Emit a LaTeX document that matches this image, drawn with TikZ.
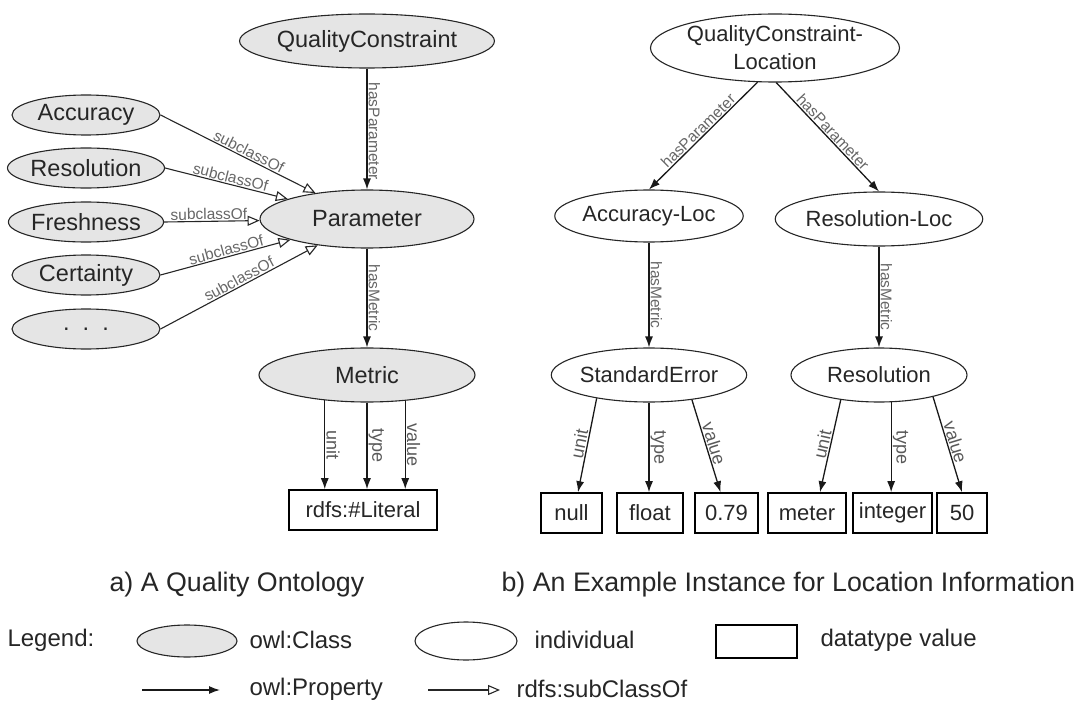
\documentclass[tikz,border=0pt]{standalone}
\usepackage{fontspec}
\setmainfont{Liberation Sans}
\usetikzlibrary{shapes.geometric,arrows.meta}
\begin{document}
\begin{tikzpicture}[x=1pt,y=-1pt,
  cls/.style={ellipse, draw=black!85, line width=1.1pt, fill=black!10, inner sep=0pt, text=black!85, font=\fontsize{23.5}{26}\selectfont},
  ind/.style={ellipse, draw=black!85, line width=1.1pt, fill=white, inner sep=0pt, text=black!85, font=\fontsize{22}{28}\selectfont},
  val/.style={rectangle, draw=black, line width=1.6pt, inner sep=0pt, text=black!85, font=\fontsize{22}{26}\selectfont},
  prop/.style={-{Latex[length=11pt,width=8pt]}, line width=1.3pt, draw=black!90},
  sub/.style={-{Triangle[open,length=12pt,width=10pt]}, line width=1.1pt, draw=black!85},
  lbl/.style={font=\fontsize{15.5}{17}\selectfont, text=black!60, sloped, above, inner sep=1pt},
  blbl/.style={font=\fontsize{18}{20}\selectfont, text=black!65, sloped, above, inner sep=1pt},
  legtxt/.style={anchor=west, text=black!85, font=\fontsize{24}{28}\selectfont},
  captxt/.style={anchor=west, text=black!85, font=\fontsize{26.8}{30}\selectfont}
]
\useasboundingbox (0,0) rectangle (1077,706);

% ---------- a) ontology ----------
\node[cls, minimum width=216pt, minimum height=54pt] (qc) at (367,41) {QualityConstraint};
\node[cls, minimum width=148pt, minimum height=40pt] (acc) at (86,115) {Accuracy};
\node[cls, minimum width=148pt, minimum height=40pt] (res) at (86,168) {Resolution};
\node[cls, minimum width=148pt, minimum height=40pt] (fre) at (86,222) {Freshness};
\node[cls, minimum width=148pt, minimum height=40pt] (cer) at (86,275) {Certainty};
\node[cls, minimum width=148pt, minimum height=40pt] (dots) at (86,329) {.\ \ .\ \ .};
\node[cls, minimum width=214pt, minimum height=58pt] (param) at (367,219) {Parameter};
\node[cls, minimum width=216pt, minimum height=54pt] (metric) at (367,375) {Metric};
\node[val, minimum width=148pt, minimum height=40pt] (lit) at (363,510) {rdfs:\#Literal};

\draw[prop] (qc) -- node[lbl, pos=0.52] {hasParameter} (param);
\draw[prop] (param) -- node[lbl, pos=0.5] {hasMetric} (metric);

\draw[sub] (acc.east) -- node[lbl, pos=0.55] {subclassOf} (param);
\draw[sub] (res.east) -- node[lbl, pos=0.52] {subclassOf} (param);
\draw[sub] (fre.east) -- node[lbl, pos=0.47] {subclassOf} (param);
\draw[sub] (cer.east) -- node[lbl, pos=0.52] {subclassOf} (param);
\draw[sub] (dots.east) -- node[lbl, pos=0.52] {subclassOf} (param);

\draw[prop] (metric.211.4) -- node[blbl, pos=0.5] {unit} (metric.211.4 |- lit.north);
\draw[prop] (metric.south) -- node[blbl, pos=0.5] {type} (metric.south |- lit.north);
\draw[prop] (metric.326.4) -- node[blbl, pos=0.5] {value} (metric.326.4 |- lit.north);

% ---------- b) instance ----------
\node[ind, minimum width=232pt, minimum height=68pt, align=center] (qcl) at (775,48) {QualityConstraint-\\Location};
\node[ind, minimum width=176pt, minimum height=52pt] (accloc) at (649,216) {Accuracy-Loc};
\node[ind, minimum width=176pt, minimum height=54pt] (resloc) at (879,219) {Resolution-Loc};
\node[ind, minimum width=176pt, minimum height=54pt] (se) at (649,375) {StandardError};
\node[ind, minimum width=176pt, minimum height=54pt] (resi) at (879,375) {Resolution};

\node[val, minimum width=61pt, minimum height=40pt] (vnull) at (571.5,513) {null};
\node[val, minimum width=66pt, minimum height=40pt] (vfloat) at (650,513) {float};
\node[val, minimum width=63pt, minimum height=40pt] (vnum) at (726.5,513) {0.79};
\node[val, minimum width=78pt, minimum height=40pt] (vmeter) at (807,513) {meter};
\node[val, minimum width=79pt, minimum height=40pt] (vint) at (892.5,513) {integer};
\node[val, minimum width=50pt, minimum height=40pt] (vfifty) at (962,513) {50};

\draw[prop] (qcl.243.2) -- node[lbl, pos=0.5] {hasParameter} (accloc.north);
\draw[prop] (qcl.272) -- node[lbl, pos=0.5] {hasParameter} (resloc.north);
\draw[prop] (accloc) -- node[lbl, pos=0.5] {hasMetric} (se);
\draw[prop] (resloc) -- node[lbl, pos=0.5] {hasMetric} (resi);

\draw[prop] (se.204.6) -- node[blbl, pos=0.5] {unit} ([xshift=6.5pt]vnull.north);
\draw[prop] (se.south) -- node[blbl, pos=0.5] {type} (se.south |- vfloat.north);
\draw[prop] (se.330.6) -- node[blbl, pos=0.5] {value} ([xshift=-6pt]vnum.north);

\draw[prop] (resi.213.5) -- node[blbl, pos=0.5] {unit} ([xshift=13pt]vmeter.north);
\draw[prop] (resi.294.2) -- node[blbl, pos=0.5] {type} (resi.294.2 |- vint.north);
\draw[prop] (resi.338.5) -- node[blbl, pos=0.5] {value} (vfifty.north);

% ---------- captions ----------
\node[captxt] (capa) at (106,585) {a) A Quality Ontology};
\node[captxt] (capb) at (498,585) {b) An Example Instance for Location Information};

% ---------- legend ----------
\node[legtxt] (leg) at (4,640) {Legend:};
\node[cls, minimum width=100pt, minimum height=32pt] (lcls) at (187,641) {};
\node[legtxt] (lclst) at (246,640) {owl:Class};
\node[ind, minimum width=102pt, minimum height=38pt] (lind) at (466,641) {};
\node[legtxt] (lindt) at (531,640) {individual};
\node[val, minimum width=81pt, minimum height=33pt] (lval) at (756.5,641.5) {};
\node[legtxt] (lvalt) at (817,640) {datatype value};
\coordinate (pa) at (142,690);
\coordinate (pb) at (220,690);
\draw[prop] (pa) -- (pb);
\node[legtxt] (lpropt) at (246,689) {owl:Property};
\coordinate (sa) at (428,690);
\coordinate (sb) at (500,690);
\draw[sub] (sa) -- (sb);
\node[legtxt] (lsubt) at (513,689) {rdfs:subClassOf};
\end{tikzpicture}
\end{document}
